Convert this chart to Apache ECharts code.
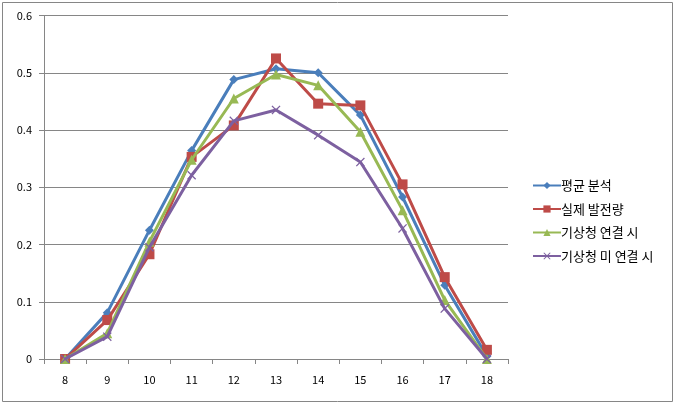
<!DOCTYPE html>
<html><head><meta charset="utf-8">
<script src="https://cdn.jsdelivr.net/npm/echarts@6/dist/echarts.min.js"></script>
<style>html,body{margin:0;padding:0;background:#fff}#c{width:675px;height:405px}</style>
</head><body><div id="c"></div>
<script>
const categories = ['8','9','10','11','12','13','14','15','16','17','18'];
const seriesNames = ['평균 분석','실제 발전량','기상청 연결 시','기상청 미 연결 시'];
const avgAnalysis = [0, 0.081, 0.225, 0.364, 0.488, 0.507, 0.500, 0.426, 0.283, 0.129, 0.005];
const actualGen   = [0, 0.068, 0.183, 0.353, 0.408, 0.525, 0.446, 0.443, 0.305, 0.143, 0.016];
const kmaLinked   = [0, 0.045, 0.205, 0.348, 0.455, 0.497, 0.478, 0.397, 0.260, 0.103, 0.000];
const kmaUnlinked = [0, 0.039, 0.195, 0.321, 0.416, 0.435, 0.391, 0.344, 0.228, 0.088, 0.000];
const yTicks = [0, 0.1, 0.2, 0.3, 0.4, 0.5, 0.6];

const colors = ['#4A7EBB','#BE4B48','#98B954','#7D60A0'];
const xPath = 'path://M0,1L1,0L5,4L9,0L10,1L6,5L10,9L9,10L5,6L1,10L0,9L4,5Z';
const symbols = ['diamond','rect','triangle',xPath];
const sizes = [9,10,10,9];
const dataSets = [avgAnalysis, actualGen, kmaLinked, kmaUnlinked];
const font = '"Noto Sans CJK KR", "Noto Sans", sans-serif';

const chart = echarts.init(document.getElementById('c'));
chart.setOption({
  animation: false,
  backgroundColor: '#fff',
  textStyle: { fontFamily: font },
  graphic: [{ type: 'rect', shape: { x: 2.5, y: 2.5, width: 670, height: 399 }, style: { fill: 'none', stroke: '#868686', lineWidth: 1 }, silent: true }],
  grid: { left: 44, right: 167, top: 15.5, bottom: 46 },
  legend: {
    orient: 'vertical', left: 527, top: 174, itemWidth: 28, itemHeight: 9, itemGap: 10.5,
    textStyle: { fontSize: 13, color: '#000', fontFamily: font, padding: [0,0,0,-5] },
    data: seriesNames
  },
  xAxis: {
    type: 'category', data: categories, boundaryGap: true,
    axisLine: { lineStyle: { color: '#868686' } },
    axisTick: { show: true, alignWithLabel: false, length: 5, inside: false, lineStyle: { color: '#868686' } },
    axisLabel: { color: '#000', fontSize: 11, margin: 15 }
  },
  yAxis: {
    type: 'value', min: yTicks[0], max: yTicks[yTicks.length-1], interval: 0.1,
    axisLine: { show: true, lineStyle: { color: '#868686' } },
    axisTick: { show: true, length: 5, lineStyle: { color: '#868686' } },
    splitLine: { lineStyle: { color: '#868686' } },
    axisLabel: { color: '#000', fontSize: 11, margin: 12, formatter: v => String(Math.round(v*10)/10) }
  },
  series: dataSets.map((d, i) => ({
    name: seriesNames[i], type: 'line', data: d,
    symbol: symbols[i], symbolSize: sizes[i], showAllSymbol: true,
    lineStyle: { color: colors[i], width: 3 },
    itemStyle: { color: colors[i] },
    z: [2,3,4,5][i]
  }))
});
</script></body></html>
